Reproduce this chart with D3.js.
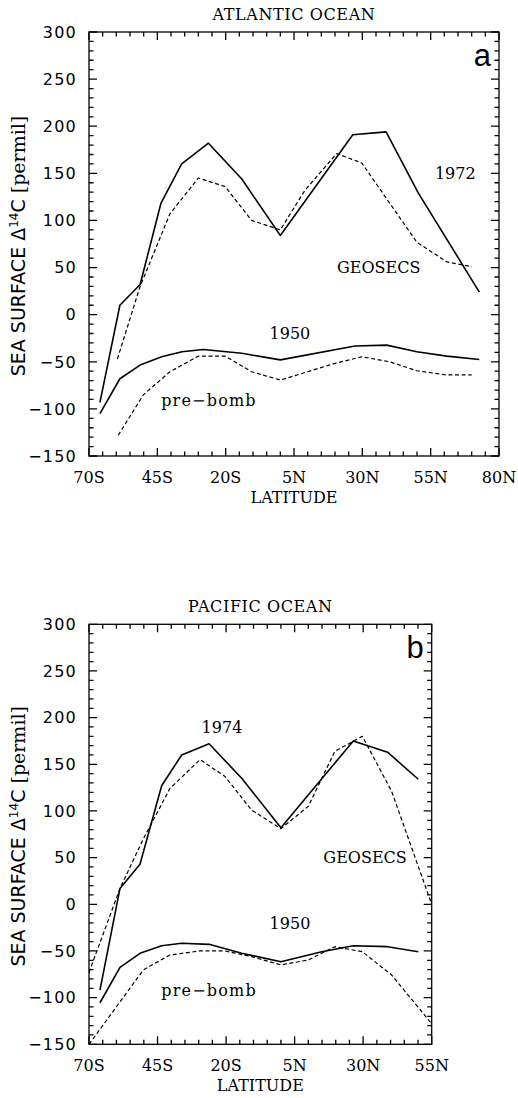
<!DOCTYPE html>
<html>
<head>
<meta charset="utf-8">
<script src="https://cdn.jsdelivr.net/npm/d3@7"></script>
<style>
  html, body { margin: 0; padding: 0; background: #fff; }
  svg { display: block; }
  .serif { font-family: "DejaVu Serif", serif; fill: #000; }
  .sans { font-family: "DejaVu Sans", sans-serif; fill: #000; }
</style>
</head>
<body>
<svg id="chart" width="518" height="1098"></svg>
<script>
// ---- Atlantic Ocean: sea surface Δ14C (permil) vs latitude ----
const atl1972Lat    = [-66, -58.7, -51.3, -43.7, -36.1, -26.3, -14.1, 0, 26.5, 38.7, 50.5, 72.8];
const atl1972       = [-93, 10, 32, 118, 160, 182, 144, 84, 191, 194, 129, 24];
const atlGeosecsLat = [-59.6, -51.3, -40.4, -30, -20.2, -10.5, 0, 9, 20.6, 29.8, 49.9, 60.9, 70];
const atlGeosecs    = [-47, 30, 107, 145, 136, 100, 90, 132, 171, 161, 77, 56, 51];
const atl1950Lat    = [-66, -58.7, -51.3, -43.4, -36, -28.2, -14.1, 0, 27.3, 38.9, 49.9, 60.9, 72.8];
const atl1950       = [-105, -68, -53.5, -44.7, -39.4, -37, -41, -48, -33.3, -32.3, -39.4, -44, -47.5];
const atlPreLat     = [-59.3, -50.1, -40.4, -30, -20.2, -10.5, 0, 20, 29.8, 40, 49.9, 60.9, 70];
const atlPre        = [-128, -85, -60.6, -44, -44, -60.6, -69.4, -51.7, -44.7, -50, -59.5, -64, -64];

// ---- Pacific Ocean ----
const pac1974Lat    = [-66, -58.7, -51.4, -43.5, -36.2, -26.2, -14.3, 0, 26.4, 38.9, 50.1];
const pac1974       = [-92, 17, 43, 127, 160, 172, 135, 82, 175, 163, 134];
const pacGeosecsLat = [-70, -58.7, -50.2, -40.5, -29.5, -20.4, -10.7, 0, 10, 19.7, 29.7, 40.4, 55];
const pacGeosecs    = [-73, 17, 70, 124, 155, 137, 101, 81, 105, 164, 180, 121, 0];
const pac1950Lat    = [-66, -58.7, -51.4, -43.5, -36.2, -26.2, -14.3, 0, 14.9, 26.4, 38.9, 50.1];
const pac1950       = [-105.5, -67.5, -52.5, -44.4, -41.8, -42.9, -52.5, -61.5, -50.8, -44.4, -45.4, -50.8];
const pacPreLat     = [-70, -50.2, -40.5, -29.5, -20.4, -10.7, 0, 10, 19.7, 29.7, 40.4, 55];
const pacPre        = [-150, -70.4, -54.3, -50, -50, -56, -65, -59.6, -45.4, -50.8, -75.8, -128];

// ---- axis ticks and labels ----
const yTicks      = [-150, -100, -50, 0, 50, 100, 150, 200, 250, 300];
const yTickLabels = ["\u2212150", "\u2212100", "\u221250", "0", "50", "100", "150", "200", "250", "300"];
const atlXTicks   = [-70, -45, -20, 5, 30, 55, 80];
const atlXLabels  = ["70S", "45S", "20S", "5N", "30N", "55N", "80N"];
const pacXTicks   = [-70, -45, -20, 5, 30, 55];
const pacXLabels  = ["70S", "45S", "20S", "5N", "30N", "55N"];

const svg = d3.select("#chart");

function panel(cfg) {
  const x = d3.scaleLinear().domain(cfg.xDomain).range([cfg.left, cfg.right]);
  const y = d3.scaleLinear().domain([-150, 300]).range([cfg.bottom, cfg.top]);
  const g = svg.append("g");

  // frame
  g.append("rect")
    .attr("x", cfg.left).attr("y", cfg.top)
    .attr("width", cfg.right - cfg.left).attr("height", cfg.bottom - cfg.top)
    .attr("fill", "none").attr("stroke", "#000").attr("stroke-width", 1.3);

  const minorX = d3.range(cfg.xDomain[0], cfg.xDomain[1] + 0.1, 5);
  const minorY = d3.range(-150, 300.1, 10);
  const lenX = v => (cfg.xTicks.indexOf(v) >= 0 ? 8 : 4.5);
  const lenY = v => (yTicks.indexOf(v) >= 0 ? 8 : 4.5);

  // inward ticks on all four sides, drawn as one path
  const p = d3.path();
  minorX.forEach(v => {
    p.moveTo(x(v), cfg.bottom); p.lineTo(x(v), cfg.bottom - lenX(v));
    p.moveTo(x(v), cfg.top); p.lineTo(x(v), cfg.top + lenX(v));
  });
  minorY.forEach(v => {
    p.moveTo(cfg.left, y(v)); p.lineTo(cfg.left + lenY(v), y(v));
    p.moveTo(cfg.right, y(v)); p.lineTo(cfg.right - lenY(v), y(v));
  });
  g.append("path").attr("d", p.toString())
    .attr("fill", "none").attr("stroke", "#000").attr("stroke-width", 1.3);

  // y tick labels
  g.selectAll("text.ylab").data(yTicks).join("text")
    .attr("class", "sans ylab")
    .attr("x", cfg.left - 12)
    .attr("y", d => y(d))
    .attr("dy", "0.36em")
    .attr("text-anchor", "end")
    .attr("font-size", 16)
    .attr("letter-spacing", 1.2)
    .text((d, i) => yTickLabels[i]);

  // x tick labels
  g.selectAll("text.xlab").data(cfg.xTicks).join("text")
    .attr("class", "serif xlab")
    .attr("x", d => x(d))
    .attr("y", cfg.bottom + 21)
    .attr("dy", "0.36em")
    .attr("text-anchor", "middle")
    .attr("font-size", 16)
    .text((d, i) => cfg.xLabels[i]);

  g.append("text").attr("class", "serif")
    .attr("x", (cfg.left + cfg.right) / 2).attr("y", cfg.bottom + 41)
    .attr("dy", "0.36em").attr("text-anchor", "middle").attr("font-size", 16)
    .text("LATITUDE");

  // title
  g.append("text").attr("class", "serif")
    .attr("x", (cfg.left + cfg.right) / 2).attr("y", cfg.top - 18)
    .attr("dy", "0.36em").attr("text-anchor", "middle").attr("font-size", 16)
    .attr("letter-spacing", 0.6)
    .text(cfg.title);

  // panel letter
  g.append("text")
    .attr("x", cfg.right - 8).attr("y", cfg.top + 34)
    .attr("text-anchor", "end")
    .attr("font-family", "Liberation Sans, Arial, sans-serif")
    .attr("font-size", 31)
    .text(cfg.letter);

  // y axis title
  const yt = g.append("text").attr("class", "sans")
    .attr("transform", `translate(${cfg.left - 71},${(cfg.top + cfg.bottom) / 2 + 2}) rotate(-90)`)
    .attr("text-anchor", "middle")
    .attr("dy", "0.36em")
    .attr("font-size", 19);
  yt.append("tspan").text("SEA SURFACE \u0394");
  yt.append("tspan").attr("font-size", 12).attr("dy", "-0.55em").text("14");
  yt.append("tspan").attr("dy", "0.35em").text("C ");
  yt.append("tspan").attr("font-family", "DejaVu Serif, serif").text("[permil]");

  // series
  const line = d3.line().x(d => x(d[0])).y(d => y(d[1]));
  cfg.series.forEach(s => {
    g.append("path")
      .datum(d3.zip(s.lat, s.val))
      .attr("d", line)
      .attr("fill", "none")
      .attr("stroke", "#000")
      .attr("stroke-width", s.dashed ? 1.2 : 1.6)
      .attr("stroke-dasharray", s.dashed ? "4,2.6" : null)
      .attr("stroke-linejoin", "round");
  });

  // curve annotations, placed in data coordinates
  cfg.notes.forEach(n => {
    g.append("text").attr("class", "serif")
      .attr("x", x(n.at[0])).attr("y", y(n.at[1]))
      .attr("dy", "0.36em").attr("text-anchor", "middle")
      .attr("font-size", 16)
      .attr("letter-spacing", n.spacing || 0)
      .text(n.text);
  });
}

panel({
  title: "ATLANTIC OCEAN", letter: "a",
  left: 89, right: 499, top: 32, bottom: 456,
  xDomain: [-70, 80], xTicks: atlXTicks, xLabels: atlXLabels,
  series: [
    { lat: atl1972Lat, val: atl1972 },
    { lat: atlGeosecsLat, val: atlGeosecs, dashed: true },
    { lat: atl1950Lat, val: atl1950 },
    { lat: atlPreLat, val: atlPre, dashed: true }
  ],
  notes: [
    { text: "1972", at: [64, 150] },
    { text: "GEOSECS", at: [36, 50] },
    { text: "1950", at: [3.5, -19.5] },
    { text: "pre\u2212bomb", at: [-26.1, -90.7], spacing: 1.2 }
  ]
});

panel({
  title: "PACIFIC OCEAN", letter: "b",
  left: 89, right: 431.7, top: 624.3, bottom: 1044.3,
  xDomain: [-70, 55], xTicks: pacXTicks, xLabels: pacXLabels,
  series: [
    { lat: pac1974Lat, val: pac1974 },
    { lat: pacGeosecsLat, val: pacGeosecs, dashed: true },
    { lat: pac1950Lat, val: pac1950 },
    { lat: pacPreLat, val: pacPre, dashed: true }
  ],
  notes: [
    { text: "1974", at: [-21.5, 190] },
    { text: "GEOSECS", at: [30.7, 50.7] },
    { text: "1950", at: [3.3, -20] },
    { text: "pre\u2212bomb", at: [-26.2, -91.8], spacing: 1.2 }
  ]
});
</script>
</body>
</html>
